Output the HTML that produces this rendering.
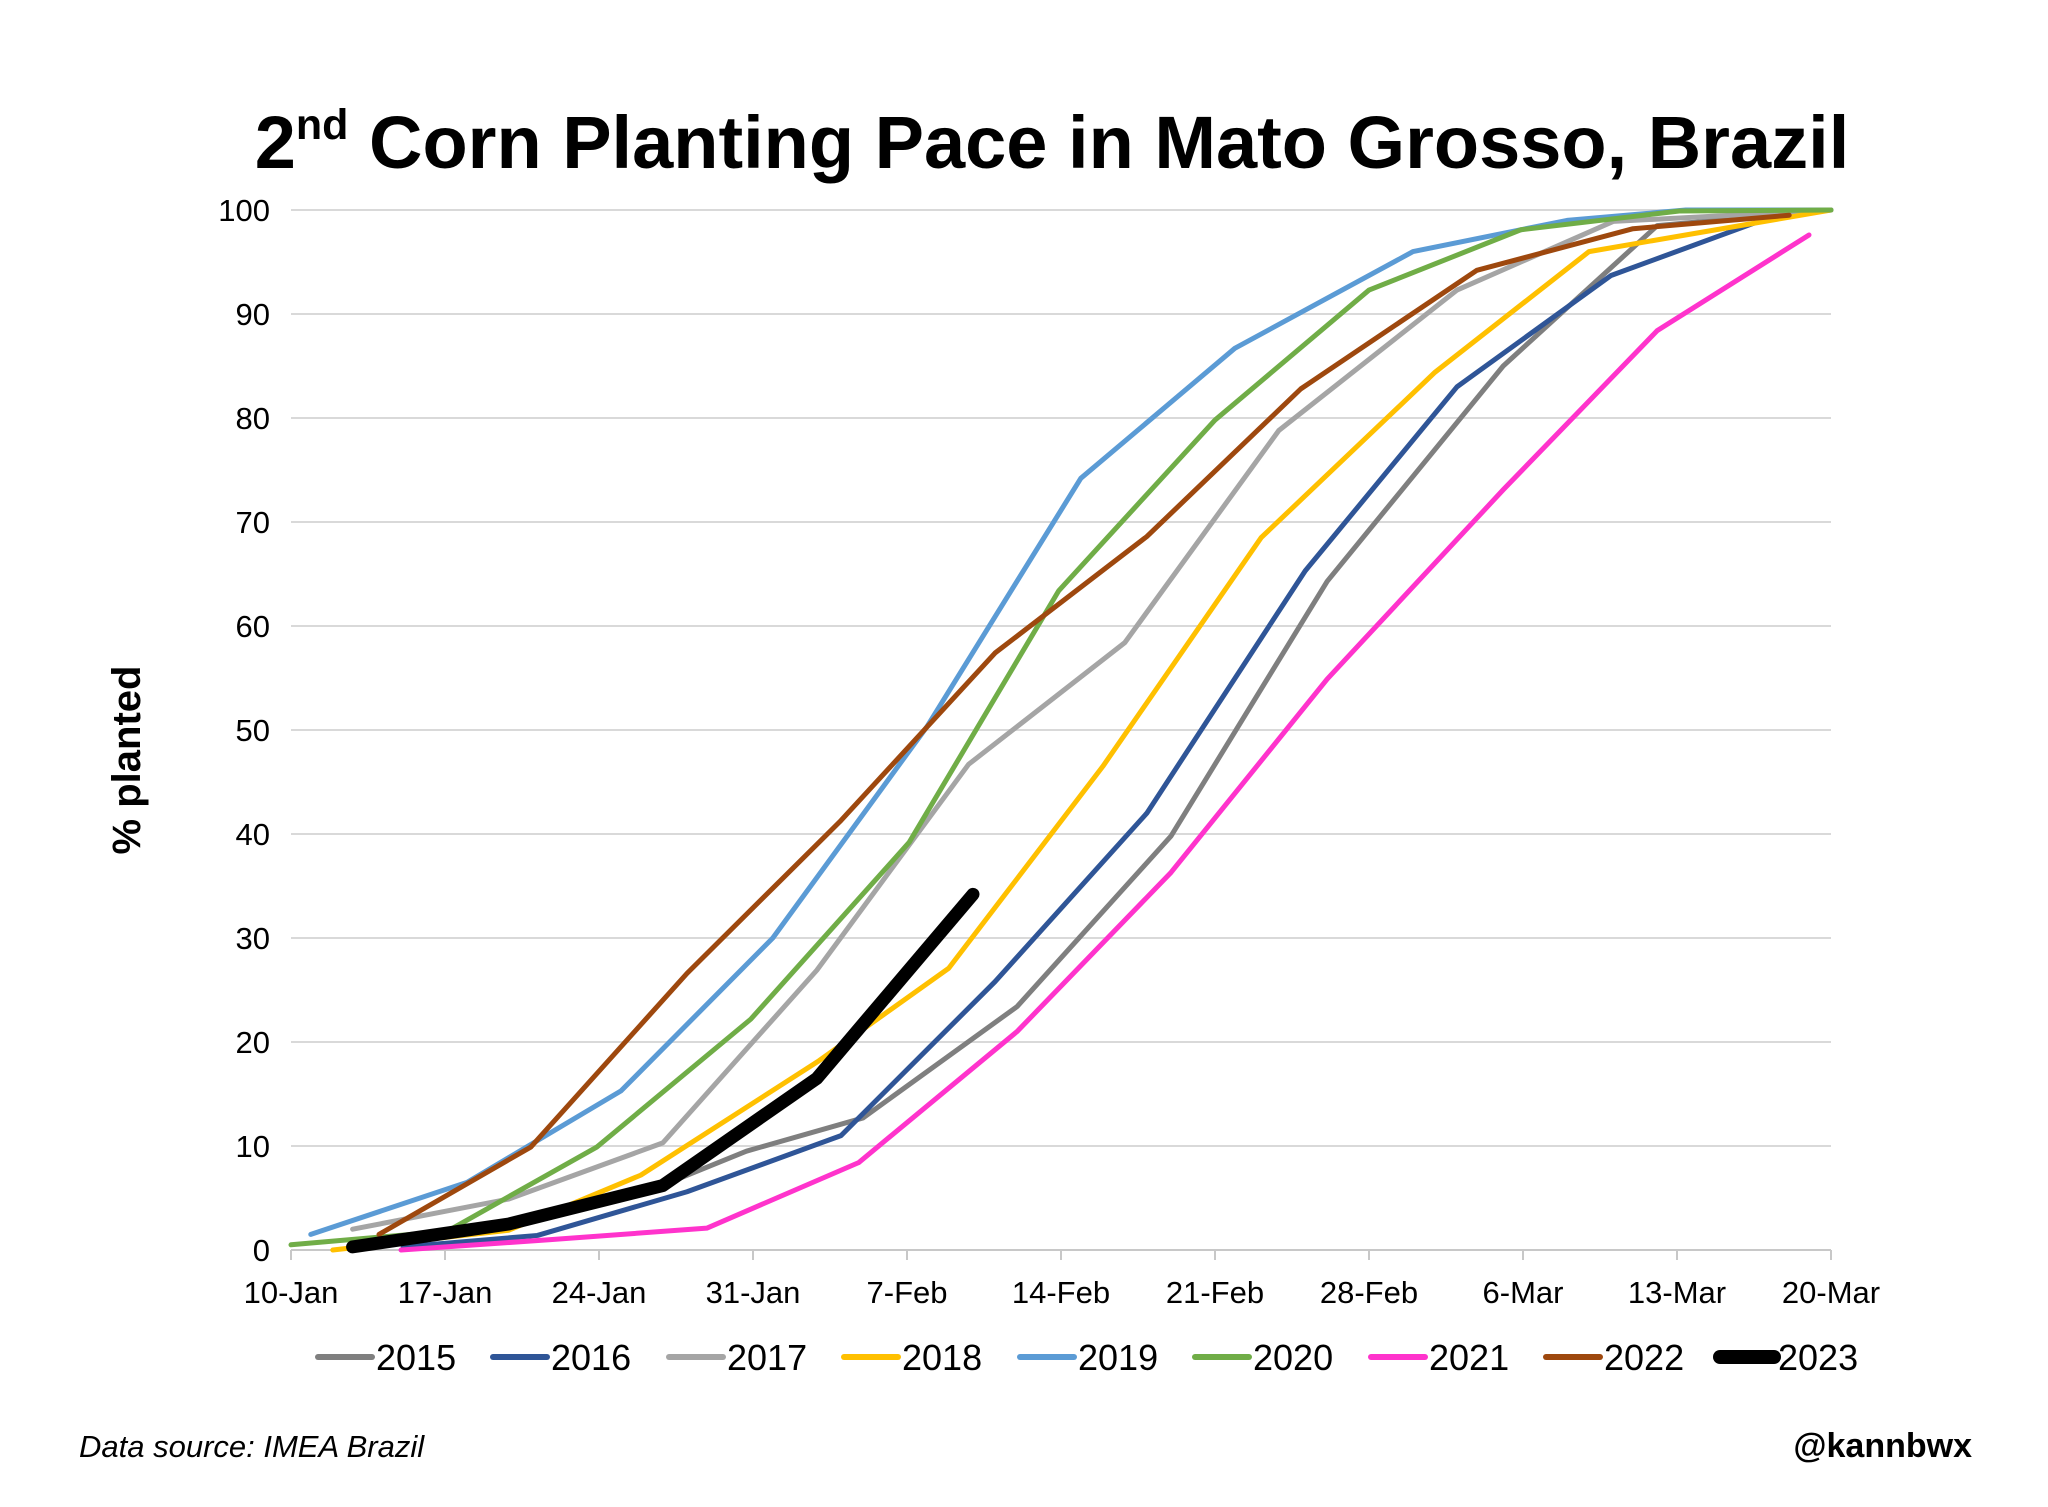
<!DOCTYPE html>
<html><head><meta charset="utf-8"><style>
body{margin:0;background:#fff;}
svg{display:block;font-family:"Liberation Sans",Arial,sans-serif;}
</style></head><body>
<svg id="chart" width="2048" height="1507" viewBox="0 0 2048 1507">
<text x="1052" y="168" text-anchor="middle" font-size="74" font-weight="bold">2<tspan font-size="43" dy="-29">nd</tspan><tspan dy="29"> Corn Planting Pace in Mato Grosso, Brazil</tspan></text>
<g id="grid"></g><g id="xaxis"></g><g id="series"></g><g id="legend"></g>
<text transform="translate(140,760) rotate(-90)" text-anchor="middle" font-size="40" font-weight="bold">% planted</text>
<text x="79" y="1457" font-size="31" font-style="italic">Data source: IMEA Brazil</text>
<text x="1972" y="1457" font-size="34" font-weight="bold" text-anchor="end">@kannbwx</text>
</svg>
<script>
const xTickLabels=["10-Jan","17-Jan","24-Jan","31-Jan","7-Feb","14-Feb","21-Feb","28-Feb","6-Mar","13-Mar","20-Mar"];
const yTicks=[0,10,20,30,40,50,60,70,80,90,100];
const years=["2015","2016","2017","2018","2019","2020","2021","2022","2023"];
const colors=["#7f7f7f","#2f5597","#a5a5a5","#ffc000","#5b9bd5","#70ad47","#ff33cc","#9e480e","#000000"];
const d2015=[[3,0.5],[10.1,2.2],[17.2,6.5],[20.7,9.5],[26,12.7],[33,23.4],[40,39.8],[47.1,64.3],[55.1,85],[62.1,98.5],[70,100]];
const d2016=[[5.1,0.3],[11.2,1.4],[18,5.6],[25,11],[32,25.8],[38.9,42],[46.1,65.3],[53,83],[60,93.7],[67.1,99.2]];
const d2017=[[2.8,2],[9.9,4.9],[16.9,10.3],[23.9,26.9],[30.8,46.7],[37.9,58.4],[44.9,78.8],[53,92.3],[60.1,98.9],[70,100]];
const d2018=[[1.9,0],[9.9,1.9],[15.9,7.2],[24,18.2],[29.9,27.1],[36.9,46.5],[44.1,68.5],[52,84.4],[59,96],[70,100]];
const d2019=[[0.9,1.5],[8,6.5],[15,15.3],[21.9,30],[28.9,50.3],[35.9,74.2],[42.9,86.7],[51,96],[58,99],[63.4,100],[70,100]];
const d2020=[[0,0.5],[7.1,1.8],[13.9,9.9],[20.9,22.2],[28.1,39.2],[34.9,63.4],[42,79.8],[49,92.3],[55.9,98.1],[63.1,99.9],[70,100]];
const d2021=[[5,0],[11.8,1],[18.9,2.1],[25.8,8.4],[33,21],[40,36.3],[47.1,54.9],[55.1,73.1],[62.1,88.4],[69,97.6]];
const d2022=[[4,1.5],[10.9,9.9],[18,26.6],[25,41.3],[32,57.4],[38.9,68.6],[45.9,82.8],[53.9,94.2],[61,98.2],[68.1,99.5]];
const d2023=[[2.8,0.3],[9.9,2.5],[16.9,6.2],[23.9,16.5],[31,34.2]];
const allData=[d2015,d2016,d2017,d2018,d2019,d2020,d2021,d2022,d2023];
const NS="http://www.w3.org/2000/svg";
const X0=291,X1=1831,Y0=1250,Y1=210,SPAN=70;
const xs=d=>X0+(X1-X0)*d/SPAN;
const ys=v=>Y0-(Y0-Y1)*v/100;
function mk(tag,attrs,parent){const e=document.createElementNS(NS,tag);for(const k in attrs)e.setAttribute(k,attrs[k]);parent.appendChild(e);return e;}
const grid=document.getElementById('grid');
yTicks.forEach(v=>{
  const l=mk('line',{x1:X0,x2:X1,y1:ys(v),y2:ys(v),stroke:v===0?'#c8c8c8':'#d9d9d9','stroke-width':2},grid);
  
  
  const t=mk('text',{x:270,y:ys(v)+11,'text-anchor':'end','font-size':31},grid);
  t.textContent=v;
  
  
});
const xa=document.getElementById('xaxis');
xTickLabels.forEach((s,i)=>{
  const x=xs(i*7);
  const l=mk('line',{x1:x,x2:x,y1:Y0,y2:Y0+10,stroke:'#c8c8c8','stroke-width':2},xa);
  
  
  const t=mk('text',{x:x,y:1303,'text-anchor':'middle','font-size':31},xa);
  t.textContent=s;
  
  
});
const sg=document.getElementById('series');
allData.forEach((data,i)=>{
  const p=mk('polyline',{points:data.map(p=>xs(p[0])+','+ys(p[1])).join(' '),fill:'none',stroke:colors[i],'stroke-width':i===8?13:5,'stroke-linejoin':'round','stroke-linecap':'round'},sg);
  
  
});
const lg=document.getElementById('legend');
const lx=[314,489,665,840,1016,1191,1367,1542,1716];
years.forEach((y,i)=>{
  const g=mk('g',{},lg);
  
  
  mk('line',{x1:lx[i]+4,x2:lx[i]+58,y1:1357,y2:1357,stroke:colors[i],'stroke-width':i===8?14:6,'stroke-linecap':'round'},g);
  const t=mk('text',{x:lx[i]+62,y:1370,'font-size':36},g);
  t.textContent=y;
});
</script>
</body></html>
